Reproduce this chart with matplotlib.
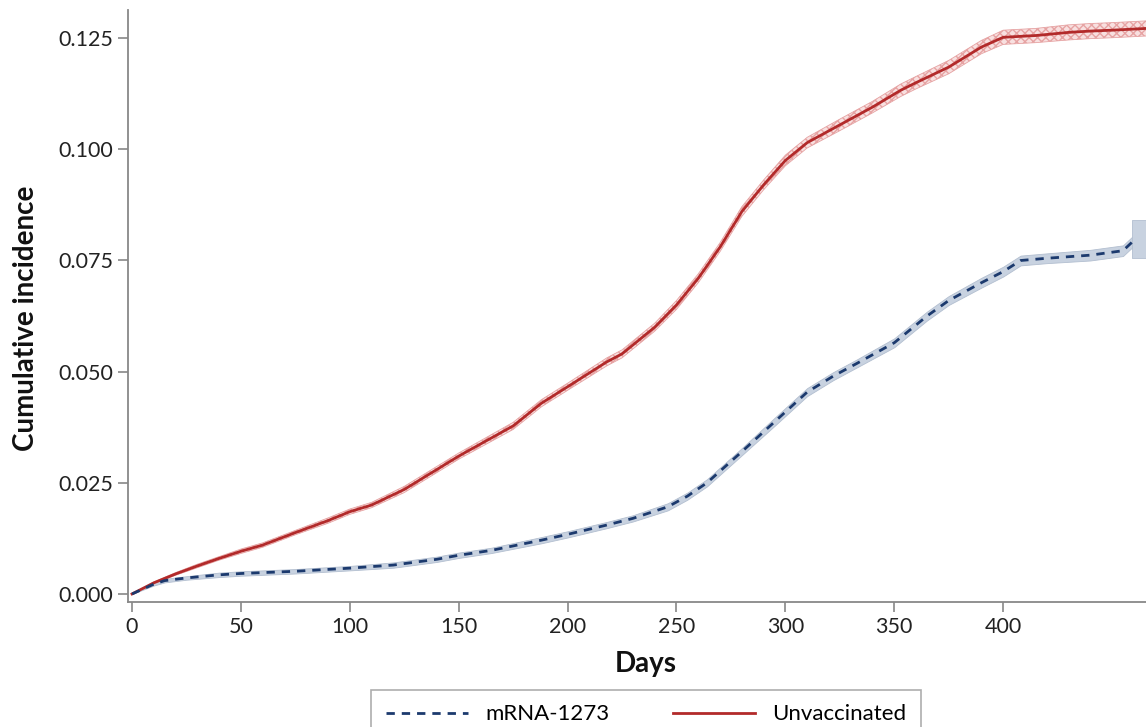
import numpy as np
import matplotlib
matplotlib.use("Agg")
import matplotlib.pyplot as plt

plt.rcParams['font.family'] = ['Lato', 'DejaVu Sans']

# unvaccinated (red) cumulative incidence
red_days = [0, 10, 20, 30, 40, 50, 60, 75, 90, 100, 110, 125, 140, 150, 175, 188, 200, 218, 225, 240,
            250, 260, 270, 280, 290, 300, 310, 325, 340, 353, 360, 375, 390, 400, 415, 430, 440, 450, 466]
red_vals = [0, 0.0025, 0.0045, 0.0063, 0.0080, 0.0096, 0.0110, 0.0138, 0.0165, 0.0185, 0.0200, 0.0235,
            0.0280, 0.0310, 0.0378, 0.0429, 0.0466, 0.0522, 0.0540, 0.0600, 0.0650, 0.0710, 0.0780,
            0.0860, 0.0920, 0.0975, 0.1015, 0.1055, 0.1095, 0.1133, 0.1150, 0.1185, 0.1230, 0.1252,
            0.1256, 0.1263, 0.1266, 0.1268, 0.1272]
red_ci = [0, 0.0002, 0.0003, 0.0004, 0.0004, 0.0005, 0.0005, 0.0005, 0.0006, 0.0006, 0.0006, 0.0007,
          0.0007, 0.0007, 0.0008, 0.0008, 0.0008, 0.0009, 0.0009, 0.0009, 0.0010, 0.0010, 0.0010,
          0.0011, 0.0011, 0.0012, 0.0012, 0.0013, 0.0013, 0.0014, 0.0014, 0.0015, 0.0015, 0.0016,
          0.0016, 0.0017, 0.0017, 0.0017, 0.0017]

# mRNA-1273 (blue)
blue_days = [0, 10, 15, 25, 40, 50, 75, 100, 120, 140, 150, 165, 188, 200, 218, 230, 246, 255, 264, 272,
             280, 295, 310, 322, 333, 350, 365, 375, 390, 400, 408, 420, 440, 455, 460]
blue_vals = [0, 0.0022, 0.0030, 0.0036, 0.0043, 0.0046, 0.0051, 0.0058, 0.0065, 0.0078, 0.0087, 0.0098,
             0.0121, 0.0134, 0.0155, 0.0170, 0.0196, 0.0220, 0.0250, 0.0285, 0.0320, 0.0387, 0.0454,
             0.0490, 0.0519, 0.0565, 0.0625, 0.0660, 0.0700, 0.0725, 0.0750, 0.0755, 0.0762, 0.0772,
             0.0795]
blue_ci = [0, 0.0003, 0.0004, 0.0004, 0.0005, 0.0005, 0.0005, 0.0005, 0.0006, 0.0006, 0.0006, 0.0006,
           0.0007, 0.0007, 0.0007, 0.0007, 0.0008, 0.0008, 0.0008, 0.0008, 0.0008, 0.0009, 0.0009,
           0.0009, 0.0009, 0.0010, 0.0010, 0.0010, 0.0011, 0.0011, 0.0011, 0.0011, 0.0012, 0.0012,
           0.0012]
blue_tail_days = [459, 470]
blue_tail_lo = [0.0755, 0.0755]
blue_tail_hi = [0.0842, 0.0842]

red_col = '#b22a2a'
blue_col = '#1c3a6e'

fig = plt.figure(figsize=(11.46, 7.27), dpi=100)
ax = fig.add_axes([0.1114, 0.172, 0.897, 0.814])

rd = np.array(red_days)
rv = np.array(red_vals)
rc = np.array(red_ci)
bd = np.array(blue_days)
bv = np.array(blue_vals)
bc = np.array(blue_ci)

ax.fill_between(rd, rv - rc, rv + rc, facecolor='#f8e0e0', edgecolor='#e6a3a3',
                hatch='xxxx', linewidth=0.6, zorder=2)
ax.fill_between(bd, bv - bc, bv + bc, facecolor='#c8d2e0', edgecolor='#b3bfd0',
                linewidth=0.6, zorder=2)
ax.fill_between(blue_tail_days, blue_tail_lo, blue_tail_hi, facecolor='#c8d2e0',
                edgecolor='#b3bfd0', linewidth=0.6, zorder=2)

ax.plot(rd, rv, color=red_col, lw=2, label='Unvaccinated', zorder=3)
ax.plot(bd, bv, color=blue_col, lw=2, ls=(0, (3, 2.5)), label='mRNA-1273', zorder=3)

ax.set_xlim(-2, 470)
ax.set_ylim(-0.0018, 0.1313)
ax.set_xticks(np.arange(0, 401, 50))
ax.set_yticks(np.arange(0, 0.126, 0.025))
ax.yaxis.set_major_formatter(matplotlib.ticker.FormatStrFormatter('%.3f'))

for s in ['top', 'right']:
    ax.spines[s].set_visible(False)
for s in ['left', 'bottom']:
    ax.spines[s].set_color('#888888')
    ax.spines[s].set_linewidth(1.3)
ax.tick_params(colors='#888888', length=7, width=1.2, labelsize=15.5, labelcolor='#222222')

ax.set_xlabel('Days', fontsize=20, fontweight='bold', color='#111111')
ax.set_ylabel('Cumulative incidence', fontsize=20, fontweight='bold', color='#111111')
ax.xaxis.set_label_coords(0.504, -0.083)
ax.yaxis.set_label_coords(-0.086, 0.48)

h, l = ax.get_legend_handles_labels()
leg = fig.legend(h[::-1], l[::-1], loc='upper center', bbox_to_anchor=(0.5637, 0.0509), ncol=2,
                 fontsize=16, frameon=True, fancybox=False, handlelength=3.7, columnspacing=2.85,
                 borderpad=0.65, handletextpad=0.77, borderaxespad=0)
leg.get_frame().set_edgecolor('#999999')
leg.get_frame().set_linewidth(1.2)

fig.savefig('out.png', dpi=100)
